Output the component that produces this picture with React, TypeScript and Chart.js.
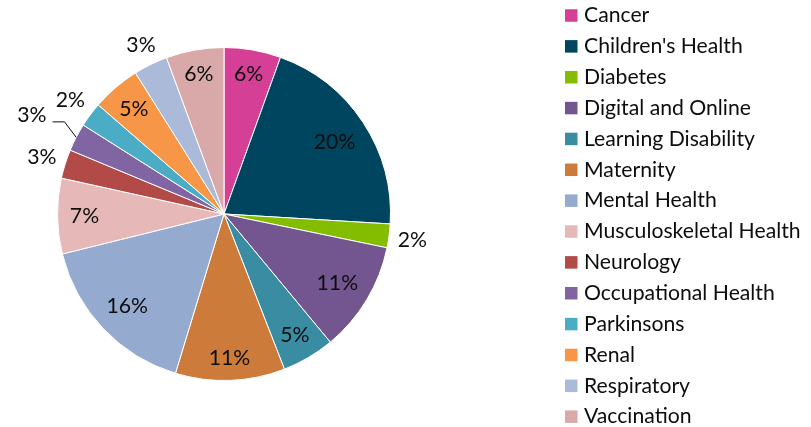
import React, { useEffect, useRef } from "react";
import { Chart, registerables } from "chart.js";

Chart.register(...registerables);

// ---- data ----
const categories = [
  "Cancer",
  "Children's Health",
  "Diabetes",
  "Digital and Online",
  "Learning Disability",
  "Maternity",
  "Mental Health",
  "Musculoskeletal Health",
  "Neurology",
  "Occupational Health",
  "Parkinsons",
  "Renal",
  "Respiratory",
  "Vaccination",
];
const shares = [5.5, 20.4, 2.3, 10.7, 5.1, 10.6, 16.4, 7.3, 2.8, 2.7, 2.4, 4.7, 3.3, 5.6];
const colors = [
  "#D63F96",
  "#00455F",
  "#84BD00",
  "#73568F",
  "#3A8CA2",
  "#CD7B3A",
  "#95AACF",
  "#E7B8B8",
  "#B24A48",
  "#8065A2",
  "#4BACC6",
  "#F79646",
  "#AABAD8",
  "#D9A9A9",
];
const leaderLabels = ["Occupational Health"];

// ---- style ----
const FONT = "Lato, 'Liberation Sans', sans-serif";
const FONT_SIZE = 21.2;
const TEXT = "#0d0d0d";
const OUTSIDE_THRESHOLD = 4;

const pieLabels = {
  id: "pieLabels",
  afterDatasetsDraw(chart: any) {
    const ctx = chart.ctx as CanvasRenderingContext2D;
    const meta = chart.getDatasetMeta(0);
    const data = chart.data.datasets[0].data as number[];
    const labels = chart.data.labels as string[];
    const total = data.reduce((a, b) => a + b, 0);
    ctx.save();
    ctx.font = `${FONT_SIZE}px ${FONT}`;
    ctx.textAlign = "center";
    ctx.textBaseline = "alphabetic";
    const capH = ctx.measureText("0").actualBoundingBoxAscent;
    meta.data.forEach((arc: any, i: number) => {
      const p = arc.getProps(["x", "y", "startAngle", "endAngle", "outerRadius"], true);
      const R = p.outerRadius;
      const mid = (p.startAngle + p.endAngle) / 2;
      const ux = Math.cos(mid);
      const uy = Math.sin(mid);
      const sx = ux >= 0 ? 1 : -1;
      const sy = uy >= 0 ? 1 : -1;
      const pct = (data[i] / total) * 100;
      const text = Math.round(pct) + "%";
      const hw = ctx.measureText(text).width / 2;
      const hh = capH / 2 + 1;
      const outside = pct < OUTSIDE_THRESHOLD;
      const leader = leaderLabels.includes(labels[i]);
      const solve = (target: number, s: number, lo0: number) => {
        let lo = lo0;
        let hi = R * 2;
        for (let k = 0; k < 50; k++) {
          const m = (lo + hi) / 2;
          const cx = m * ux + s * hw * sx;
          const cy = m * uy + s * hh * sy;
          if (Math.hypot(cx, cy) < target) lo = m;
          else hi = m;
        }
        return (lo + hi) / 2;
      };
      let d: number;
      if (outside) {
        d = solve(R + 8 + (leader ? 25 : 0), -1, R * 0.6);
      } else {
        d = solve(R - 12, 1, 0);
      }
      const lx = p.x + d * ux;
      const ly = p.y + d * uy;
      ctx.fillStyle = TEXT;
      ctx.fillText(text, lx, ly + capH / 2);
      if (leader) {
        const x0 = lx - sx * (hw + 6);
        const y0 = ly + capH / 2;
        const x1 = x0 - sx * 12;
        ctx.strokeStyle = TEXT;
        ctx.lineWidth = 1;
        ctx.beginPath();
        ctx.moveTo(x0, y0);
        ctx.lineTo(x1, y0);
        ctx.lineTo(p.x + R * ux, p.y + R * uy);
        ctx.stroke();
      }
    });
    ctx.restore();
  },
};

const LEG_BOX_X = 565;
const LEG_TEXT_X = 584;
const LEG_TOP = 15.5;
const LEG_STEP = 30.86;
const LEG_BOX = 12.5;

const legendPlugin = {
  id: "customLegend",
  afterDraw(chart: any) {
    const ctx = chart.ctx as CanvasRenderingContext2D;
    const labels = chart.data.labels as string[];
    const bg = chart.data.datasets[0].backgroundColor as string[];
    ctx.save();
    ctx.font = `${FONT_SIZE}px ${FONT}`;
    ctx.textAlign = "left";
    ctx.textBaseline = "alphabetic";
    const capH = ctx.measureText("C").actualBoundingBoxAscent;
    labels.forEach((lab, i) => {
      const cy = LEG_TOP + i * LEG_STEP;
      ctx.fillStyle = bg[i];
      ctx.fillRect(LEG_BOX_X, cy - LEG_BOX / 2, LEG_BOX, LEG_BOX);
      ctx.fillStyle = TEXT;
      ctx.fillText(lab, LEG_TEXT_X, cy - 0.8 + capH / 2);
    });
    ctx.restore();
  },
};

export default function App() {
  const ref = useRef<HTMLCanvasElement | null>(null);
  useEffect(() => {
    if (!ref.current) return;
    const chart = new Chart(ref.current, {
      type: "pie",
      data: {
        labels: categories,
        datasets: [
          {
            data: shares,
            backgroundColor: colors,
            borderColor: "#ffffff",
            borderWidth: 1,
          },
        ],
      },
      options: {
        responsive: true,
        maintainAspectRatio: false,
        animation: false,
        layout: { padding: { left: 57, top: 47, right: 420, bottom: 46 } },
        plugins: {
          legend: { display: false },
          tooltip: { enabled: false },
        },
      },
      plugins: [pieLabels, legendPlugin],
    });
    return () => chart.destroy();
  }, []);
  return (
    <div
      style={{
        position: "fixed",
        left: 0,
        top: 0,
        width: 811,
        height: 427,
        background: "#ffffff",
      }}
    >
      <canvas ref={ref} style={{ display: "block" }} />
    </div>
  );
}
